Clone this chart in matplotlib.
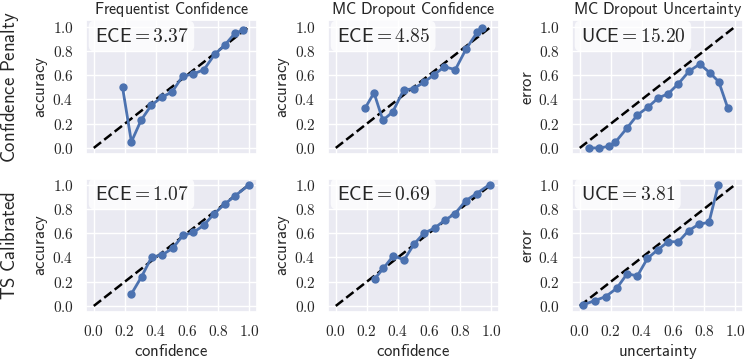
import numpy as np
import matplotlib
matplotlib.use("Agg")
import matplotlib.pyplot as plt
import seaborn as sns
from matplotlib.ticker import FuncFormatter

sns.set_theme(style="darkgrid")
plt.rcParams["mathtext.fontset"] = "cm"

# ---- data ----
fc_conf = [0.185, 0.242, 0.305, 0.369, 0.439, 0.503, 0.571, 0.641, 0.709, 0.777, 0.845, 0.908, 0.96]
fc_acc = [0.50, 0.05, 0.23, 0.35, 0.42, 0.46, 0.59, 0.61, 0.645, 0.77, 0.85, 0.945, 0.97]

mc_conf = [0.191, 0.246, 0.303, 0.366, 0.436, 0.501, 0.566, 0.634, 0.699, 0.769, 0.837, 0.91, 0.94]
mc_acc = [0.333, 0.454, 0.228, 0.296, 0.476, 0.489, 0.54, 0.605, 0.669, 0.645, 0.812, 0.954, 0.99]

mcu_unc = [0.061, 0.125, 0.188, 0.228, 0.302, 0.371, 0.439, 0.504, 0.568, 0.635, 0.703, 0.772, 0.835, 0.894, 0.951]
mcu_err = [0.0, 0.0, 0.013, 0.046, 0.161, 0.272, 0.336, 0.411, 0.446, 0.53, 0.632, 0.691, 0.621, 0.546, 0.333]

fc_ts_conf = [0.242, 0.308, 0.372, 0.44, 0.507, 0.573, 0.641, 0.707, 0.773, 0.843, 0.911, 0.998]
fc_ts_acc = [0.099, 0.242, 0.402, 0.421, 0.474, 0.581, 0.606, 0.664, 0.758, 0.84, 0.909, 0.997]

mc_ts_conf = [0.252, 0.307, 0.37, 0.44, 0.505, 0.568, 0.636, 0.70, 0.767, 0.837, 0.906, 0.989]
mc_ts_acc = [0.226, 0.311, 0.413, 0.38, 0.512, 0.60, 0.642, 0.705, 0.76, 0.868, 0.926, 1.0]

mcu_ts_unc = [0.019, 0.097, 0.167, 0.238, 0.304, 0.371, 0.435, 0.502, 0.568, 0.635, 0.70, 0.768, 0.831, 0.892]
mcu_ts_err = [0.008, 0.044, 0.077, 0.146, 0.264, 0.248, 0.391, 0.463, 0.529, 0.529, 0.62, 0.675, 0.688, 1.0]

col_titles = ["Frequentist Confidence", "MC Dropout Confidence", "MC Dropout Uncertainty"]
row_titles = ["Confidence Penalty", "TS Calibrated"]
xlabels = ["confidence", "confidence", "uncertainty"]
ylabels = ["accuracy", "accuracy", "error"]
metric_names = ["ECE", "ECE", "UCE"]
metric_vals = [["3.37", "4.85", "15.20"], ["1.07", "0.69", "3.81"]]
ticks = [0.0, 0.2, 0.4, 0.6, 0.8, 1.0]

series = [[(fc_conf, fc_acc), (mc_conf, mc_acc), (mcu_unc, mcu_err)],
          [(fc_ts_conf, fc_ts_acc), (mc_ts_conf, mc_ts_acc), (mcu_ts_unc, mcu_ts_err)]]

def sf(s):
    return r"$\mathsf{" + s.replace(" ", r"\ ") + "}$"

fig = plt.figure(figsize=(7.47, 3.61), dpi=100)
W, H = 747, 361
lefts = [86, 328, 572]
tops = [20.5, 178.5]
aw, ah = 171, 133.5

fmt = FuncFormatter(lambda v, p: "$%.1f$" % v)

for r in range(2):
    for c in range(3):
        ax = fig.add_axes([lefts[c] / W, 1 - (tops[r] + ah) / H, aw / W, ah / H])
        ax.plot([0, 1], [0, 1], "--", color="black", lw=1.8, zorder=2)
        x, y = series[r][c]
        ax.plot(x, y, "-o", color="#4C72B0", lw=2, ms=5, zorder=3)
        ax.set_xlim(-0.05, 1.05)
        ax.set_ylim(-0.05, 1.05)
        ax.set_xticks(ticks)
        ax.set_yticks(ticks)
        ax.xaxis.set_major_formatter(fmt)
        ax.yaxis.set_major_formatter(fmt)
        ax.tick_params(labelsize=11, pad=3)
        ax.set_ylabel(sf(ylabels[c]), fontsize=12, labelpad=2)
        if r == 0:
            ax.set_title(sf(col_titles[c]), fontsize=11.6, pad=5)
            ax.tick_params(labelbottom=False)
        else:
            ax.set_xlabel(sf(xlabels[c]), fontsize=12, labelpad=2)
        ax.text(0.05, 0.955, r"$\mathsf{%s} = \mathsf{%s}$" % (metric_names[c], metric_vals[r][c]),
                transform=ax.transAxes, fontsize=14, va="top", ha="left",
                bbox=dict(boxstyle="round,pad=0.3", facecolor="white", alpha=0.8, edgecolor="none"),
                zorder=5)

for r in range(2):
    yc = 1 - (tops[r] + ah / 2) / H
    fig.text(10 / W, yc, sf(row_titles[r]), rotation=90, fontsize=13.5, ha="center", va="center")

fig.savefig("out.png", dpi=100)
